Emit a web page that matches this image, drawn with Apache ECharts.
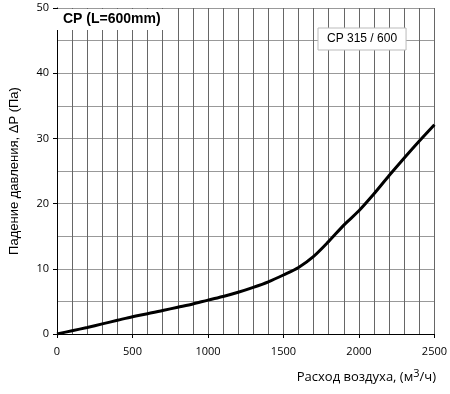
<!DOCTYPE html>
<html><head><meta charset="utf-8">
<script src="https://cdn.jsdelivr.net/npm/echarts@6/dist/echarts.min.js"></script>
<style>html,body{margin:0;padding:0;background:#fff}#c{width:450px;height:394px}</style>
</head><body><div id="c"></div>
<script>
const flow = [0,100,200,300,400,500,600,700,800,900,1000,1100,1200,1300,1400,1500,1600,1700,1800,1900,2000,2100,2200,2300,2400,2500];
const pressure = [0,0.5,1.0,1.55,2.1,2.65,3.1,3.6,4.1,4.6,5.2,5.75,6.4,7.15,8.0,9.05,10.2,11.9,14.2,16.7,18.9,21.5,24.3,27.0,29.6,32.1];
const xTicks = [0,500,1000,1500,2000,2500];
const yTicks = [0,10,20,30,40,50];
const seriesName = 'CP 315 / 600';
const titleText = 'CP (L=600mm)';
const yName = 'Падение давления, ΔP (Па)';
const xNameA = 'Расход воздуха, (м';
const xNameSup = '3';
const xNameB = '/ч)';

const chart = echarts.init(document.getElementById('c'), null, {renderer:'canvas'});
chart.setOption({
  animation:false,
  backgroundColor:'#fff',
  title:{text:titleText,left:55,top:9,padding:[3,8,4,8],backgroundColor:'#fff',
    textStyle:{fontFamily:'Liberation Sans, Arial',fontWeight:'bold',fontSize:14,color:'#000'}},
  legend:{data:[{name:seriesName,icon:'none'}],left:318,top:28,padding:[5,9,5,4],itemWidth:0,itemHeight:0,
    backgroundColor:'#fff',borderColor:'#bbb',borderWidth:1,borderRadius:0,
    textStyle:{fontFamily:'Liberation Sans, Arial',fontSize:12,color:'#000'}},
  grid:{left:54,right:14,top:8,bottom:60,containLabel:false},
  xAxis:{type:'value',min:0,max:2500,interval:500,
    axisLine:{show:true,lineStyle:{color:'#000',width:1}},
    axisTick:{show:true,length:4,lineStyle:{color:'#000'}},
    axisLabel:{margin:12,fontFamily:'Open Sans',fontSize:11,color:'#000',formatter:v=>String(v)},
    splitLine:{show:true,lineStyle:{color:'#666',width:1}},
    minorTick:{show:false,splitNumber:5},
    minorSplitLine:{show:true,lineStyle:{color:'#666',width:1}}},
  yAxis:{type:'value',min:0,max:50,interval:10,name:yName,nameLocation:'middle',nameGap:36,
    nameTextStyle:{fontFamily:'Liberation Sans, Arial',fontSize:13,color:'#000'},
    axisLine:{show:true,lineStyle:{color:'#000',width:1}},
    axisTick:{show:true,length:4,lineStyle:{color:'#000'}},
    axisLabel:{margin:8,fontFamily:'Open Sans',fontSize:11,color:'#000',formatter:v=>String(v)},
    splitLine:{show:true,lineStyle:{color:'#999',width:1}},
    minorTick:{show:false,splitNumber:2},
    minorSplitLine:{show:true,lineStyle:{color:'#999',width:1}}},
  graphic:[{type:'text',right:14,top:368,style:{
    text:xNameA+'{s|'+xNameSup+'}'+xNameB,
    fontFamily:'Open Sans',fontSize:13,fill:'#000',
    rich:{s:{fontFamily:'Open Sans',fontSize:11,fill:'#000',verticalAlign:'top',padding:[0,0,7,0]}}}}],
  series:[{name:seriesName,type:'line',smooth:0.3,symbol:'none',
    lineStyle:{color:'#000',width:3},
    data:flow.map((f,i)=>[f,pressure[i]])}]
});
</script></body></html>
